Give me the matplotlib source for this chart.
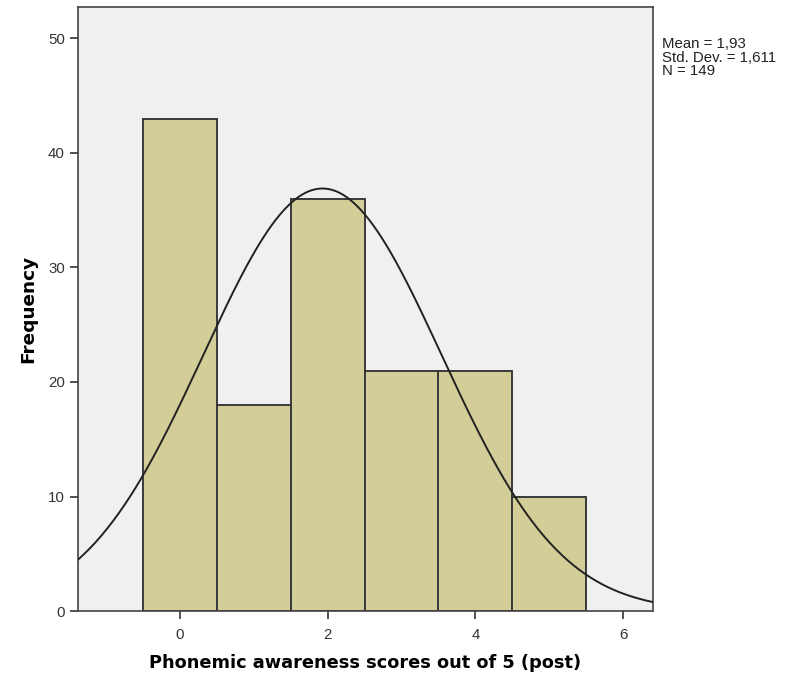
import numpy as np
import matplotlib
matplotlib.use("Agg")
import matplotlib.pyplot as plt

# histogram data (score -> frequency)
scores = [0, 1, 2, 3, 4, 5]
freqs = [43, 18, 36, 21, 21, 10]
mean = 1.93
sd = 1.611
n = 149

x_ticks = [0, 2, 4, 6]
y_ticks = [0, 10, 20, 30, 40, 50]

fig = plt.figure(figsize=(7.86, 6.78), dpi=100)
ax = fig.add_axes([0.0992, 0.0988, 0.7313, 0.8909])
ax.set_facecolor("#f0f0f0")

ax.bar(scores, freqs, width=1.0, color="#d3ce98", edgecolor="#3a3a3a",
       linewidth=1.4, zorder=2)

xmin, xmax = -1.378, 6.40
xs = np.linspace(xmin, xmax, 400)
pdf = n * np.exp(-0.5 * ((xs - mean) / sd) ** 2) / (sd * np.sqrt(2 * np.pi))
ax.plot(xs, pdf, color="#222222", lw=1.4, zorder=3)

ax.set_xlim(xmin, xmax)
ax.set_ylim(0, 52.75)
ax.set_xticks(x_ticks)
ax.set_yticks(y_ticks)
for s in ax.spines.values():
    s.set_color("#444444")
    s.set_linewidth(1.2)
ax.tick_params(axis="both", colors="#333333", length=6, width=1.2,
               labelsize=10.8)
ax.tick_params(axis="x", pad=6)
for lab in ax.get_xticklabels() + ax.get_yticklabels():
    lab.set_family("Liberation Sans")

ax.set_xlabel("Phonemic awareness scores out of 5 (post)", fontsize=12.8,
              fontweight="bold", labelpad=9)
ax.set_ylabel("Frequency", fontsize=13.3, fontweight="bold", labelpad=8)

fig.text(0.842, 0.945, "Mean = 1,93\nStd. Dev. = 1,611\nN = 149",
         fontsize=10.8, family="Liberation Sans", va="top", ha="left",
         linespacing=0.95, color="#222222")

fig.savefig("out.png", dpi=100)
